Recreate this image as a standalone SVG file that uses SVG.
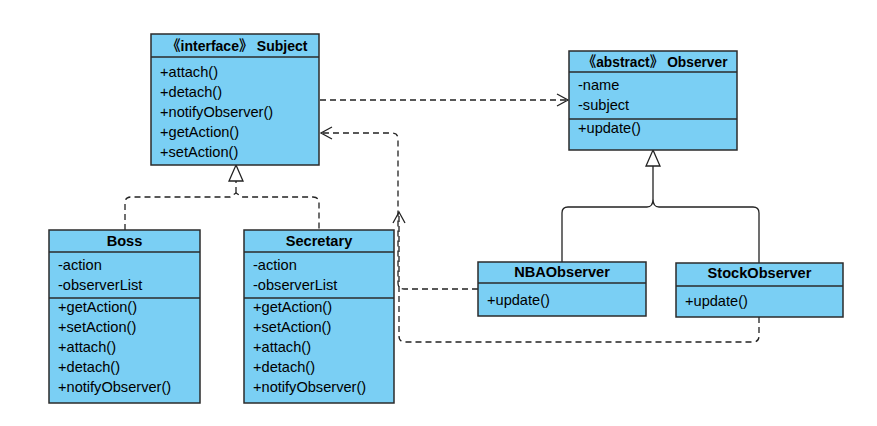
<svg xmlns="http://www.w3.org/2000/svg" width="877" height="426" viewBox="0 0 877 426">
<defs>
<style>
.box{fill:#7acff4;stroke:#2b2b2b;stroke-width:1.5}
.ln{stroke:#2b2b2b;stroke-width:1.5;fill:none}
.t{font-family:"Liberation Sans",Arial,"Noto Sans CJK SC",sans-serif;font-size:14.6px;fill:#000}
.h{font-family:"Liberation Sans",Arial,"Noto Sans CJK SC",sans-serif;font-size:14.6px;font-weight:bold;fill:#000;text-anchor:middle}
.dash{stroke:#222;stroke-width:1.3;fill:none;stroke-dasharray:6,4}
.solid{stroke:#222;stroke-width:1.3;fill:none}
</style>
<marker id="open" markerWidth="14" markerHeight="14" refX="12" refY="7" orient="auto" markerUnits="userSpaceOnUse">
<path d="M1,1 L12,7 L1,13" fill="none" stroke="#222" stroke-width="1.3"/>
</marker>
</defs>
<rect width="877" height="426" fill="#fff"/>

<g id="connectors">
<path class="dash" d="M320,100 H568" marker-end="url(#open)"/>
<path class="dash" d="M125,230 V203 Q125,197 131,197 H230 L236,193 L242,197 H313 Q319,197 319,203 V230"/>
<path class="dash" d="M236,193 V181"/>
<path d="M236,165 L243,181 L229,181 Z" fill="#fff" stroke="#222" stroke-width="1.3"/>
<path class="solid" d="M562,262 V213 Q562,207 568,207 H647 Q653,207 653,199 V166 M653,199 Q653,207 659,207 H753 Q759,207 759,213 V263"/>
<path d="M653,150 L660,166 L646,166 Z" fill="#fff" stroke="#222" stroke-width="1.3"/>
<path class="dash" d="M478,289 H404 Q398,289 398,283 V139 Q398,133 392,133 H321" marker-end="url(#open)"/>
<path class="dash" d="M759,317 V336 Q759,342 753,342 H405 Q399,342 399,336 V212" marker-end="url(#open)"/>
</g>

<g id="subject">
<rect class="box" x="151" y="34" width="168" height="131"/>
<line class="ln" x1="151" y1="57" x2="319" y2="57"/>
<text class="h" x="237" y="51" textLength="141" lengthAdjust="spacingAndGlyphs">《interface》 Subject</text>
<text class="t" x="160" y="77">+attach()</text>
<text class="t" x="160" y="97">+detach()</text>
<text class="t" x="160" y="117">+notifyObserver()</text>
<text class="t" x="160" y="137">+getAction()</text>
<text class="t" x="160" y="157">+setAction()</text>
</g>

<g id="observer">
<rect class="box" x="569" y="51" width="168" height="99"/>
<line class="ln" x1="569" y1="72" x2="737" y2="72"/>
<line class="ln" x1="569" y1="119" x2="737" y2="119"/>
<text class="h" x="655" y="67" textLength="145" lengthAdjust="spacingAndGlyphs">《abstract》 Observer</text>
<text class="t" x="578" y="90">-name</text>
<text class="t" x="578" y="110">-subject</text>
<text class="t" x="578" y="133">+update()</text>
</g>

<g id="boss">
<rect class="box" x="49" y="230" width="151" height="173"/>
<line class="ln" x1="49" y1="252" x2="200" y2="252"/>
<line class="ln" x1="49" y1="298" x2="200" y2="298"/>
<text class="h" x="124.5" y="246">Boss</text>
<text class="t" x="58" y="270">-action</text>
<text class="t" x="58" y="290">-observerList</text>
<text class="t" x="58" y="312">+getAction()</text>
<text class="t" x="58" y="332">+setAction()</text>
<text class="t" x="58" y="352">+attach()</text>
<text class="t" x="58" y="372">+detach()</text>
<text class="t" x="58" y="392">+notifyObserver()</text>
</g>

<g id="secretary">
<rect class="box" x="244" y="230" width="150" height="173"/>
<line class="ln" x1="244" y1="252" x2="394" y2="252"/>
<line class="ln" x1="244" y1="298" x2="394" y2="298"/>
<text class="h" x="319" y="246">Secretary</text>
<text class="t" x="253" y="270">-action</text>
<text class="t" x="253" y="290">-observerList</text>
<text class="t" x="253" y="312">+getAction()</text>
<text class="t" x="253" y="332">+setAction()</text>
<text class="t" x="253" y="352">+attach()</text>
<text class="t" x="253" y="372">+detach()</text>
<text class="t" x="253" y="392">+notifyObserver()</text>
</g>

<g id="nbaobserver">
<rect class="box" x="478" y="262" width="168" height="54"/>
<line class="ln" x1="478" y1="283" x2="646" y2="283"/>
<text class="h" x="562" y="277">NBAObserver</text>
<text class="t" x="487" y="305">+update()</text>
</g>

<g id="stockobserver">
<rect class="box" x="676" y="263" width="167" height="54"/>
<line class="ln" x1="676" y1="286" x2="843" y2="286"/>
<text class="h" x="759.5" y="278">StockObserver</text>
<text class="t" x="685" y="306">+update()</text>
</g>
</svg>
